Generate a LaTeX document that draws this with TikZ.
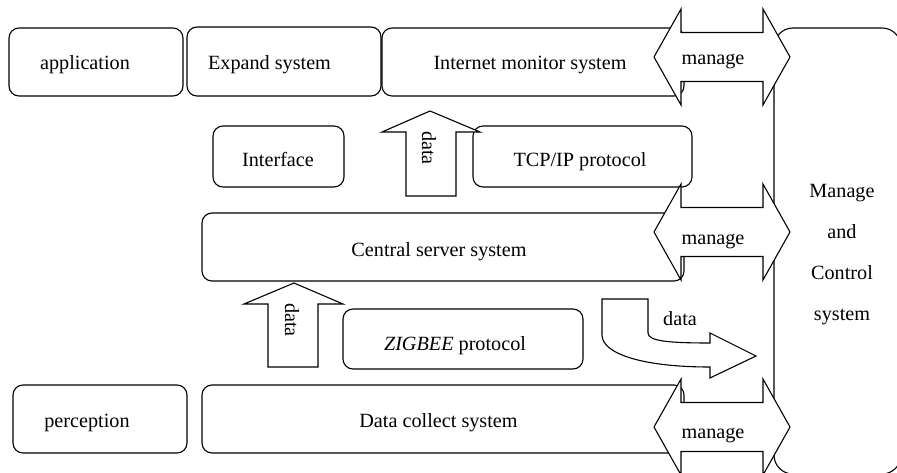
\documentclass[tikz,border=0pt]{standalone}
\usepackage{fontspec}
\setmainfont{Liberation Serif}
\begin{document}
\begin{tikzpicture}[x=1pt,y=-1pt,
  box/.style={draw,line width=1.1pt,rounded corners=10pt},
  arr/.style={draw,line width=1.1pt,fill=white,line join=miter},
  lbl/.style={font=\fontsize{20.2}{24}\selectfont,inner sep=0pt,anchor=base},
  vlbl/.style={font=\fontsize{20.2}{24}\selectfont,inner sep=0pt,rotate=-90},
  mgarrow/.pic={\draw[arr] (-68,0) -- (-41,-48) -- (-41,-24.5) -- (41,-24.5) -- (41,-48)
     -- (68,0) -- (41,48) -- (41,24.5) -- (-41,24.5) -- (-41,48) -- cycle;}
]
\useasboundingbox (0,0) rectangle (897,473);
\clip (0,0) rectangle (897,473);
% boxes
\draw[box] (9,28) rectangle (183,96);
\draw[box] (187,27) rectangle (381,96);
\draw[box] (382,28) rectangle (684,96);
\draw[box] (213,126) rectangle (344,187);
\draw[box] (473,126) rectangle (692,187);
\draw[box] (202,213) rectangle (684,281);
\draw[box] (343,309) rectangle (583,369);
\draw[box] (13,385) rectangle (187,453);
\draw[box] (202,385) rectangle (684,453);
\draw[box,rounded corners=19pt] (774,28) rectangle (901,474);
% manage arrows
\pic at (722,57) {mgarrow};
\pic at (722,232) {mgarrow};
\pic at (722,427) {mgarrow};
% data arrows
\draw[arr] (430,111) -- (480,132) -- (456,132) -- (456,196) -- (406,196) -- (406,132) -- (382,132) -- cycle;
\draw[arr] (294,283) -- (343,304) -- (318,304) -- (318,367) -- (268,367) -- (268,304) -- (244,304) -- cycle;
\draw[arr] (602,299) -- (602,335) .. controls (602,353) and (640,367) .. (710,367) -- (710,378)
   -- (756,356) -- (710,333) -- (710,343) .. controls (668,343) and (648,341) .. (648,333) -- (648,299) -- cycle;
% texts
\node[lbl] (app) at (85,70) {application};
\node[lbl] (exp) at (269.5,70) {Expand system};
\node[lbl] (ims) at (530,70) {Internet monitor system};
\node[lbl] (ifc) at (278,167) {Interface};
\node[lbl] (tcp) at (580,167) {TCP/IP protocol};
\node[lbl] (css) at (439,256) {Central server system};
\node[lbl] (zig) at (455,350) {\textit{ZIGBEE} protocol};
\node[lbl] (per) at (87,427) {perception};
\node[lbl] (dcs) at (438.5,427) {Data collect system};
\node[lbl] (m1) at (713,65) {manage};
\node[lbl] (m2) at (713,245) {manage};
\node[lbl] (m3) at (713,438) {manage};
\node[lbl] (d3) at (680,325) {data};
\node[vlbl] (d1) at (429,148) {data};
\node[vlbl] (d2) at (292,320) {data};
\node[font=\fontsize{20.2}{41}\selectfont,align=center,inner sep=0pt] (mc) at (842,255) {Manage\\and\\Control\\system};
\end{tikzpicture}
\end{document}
